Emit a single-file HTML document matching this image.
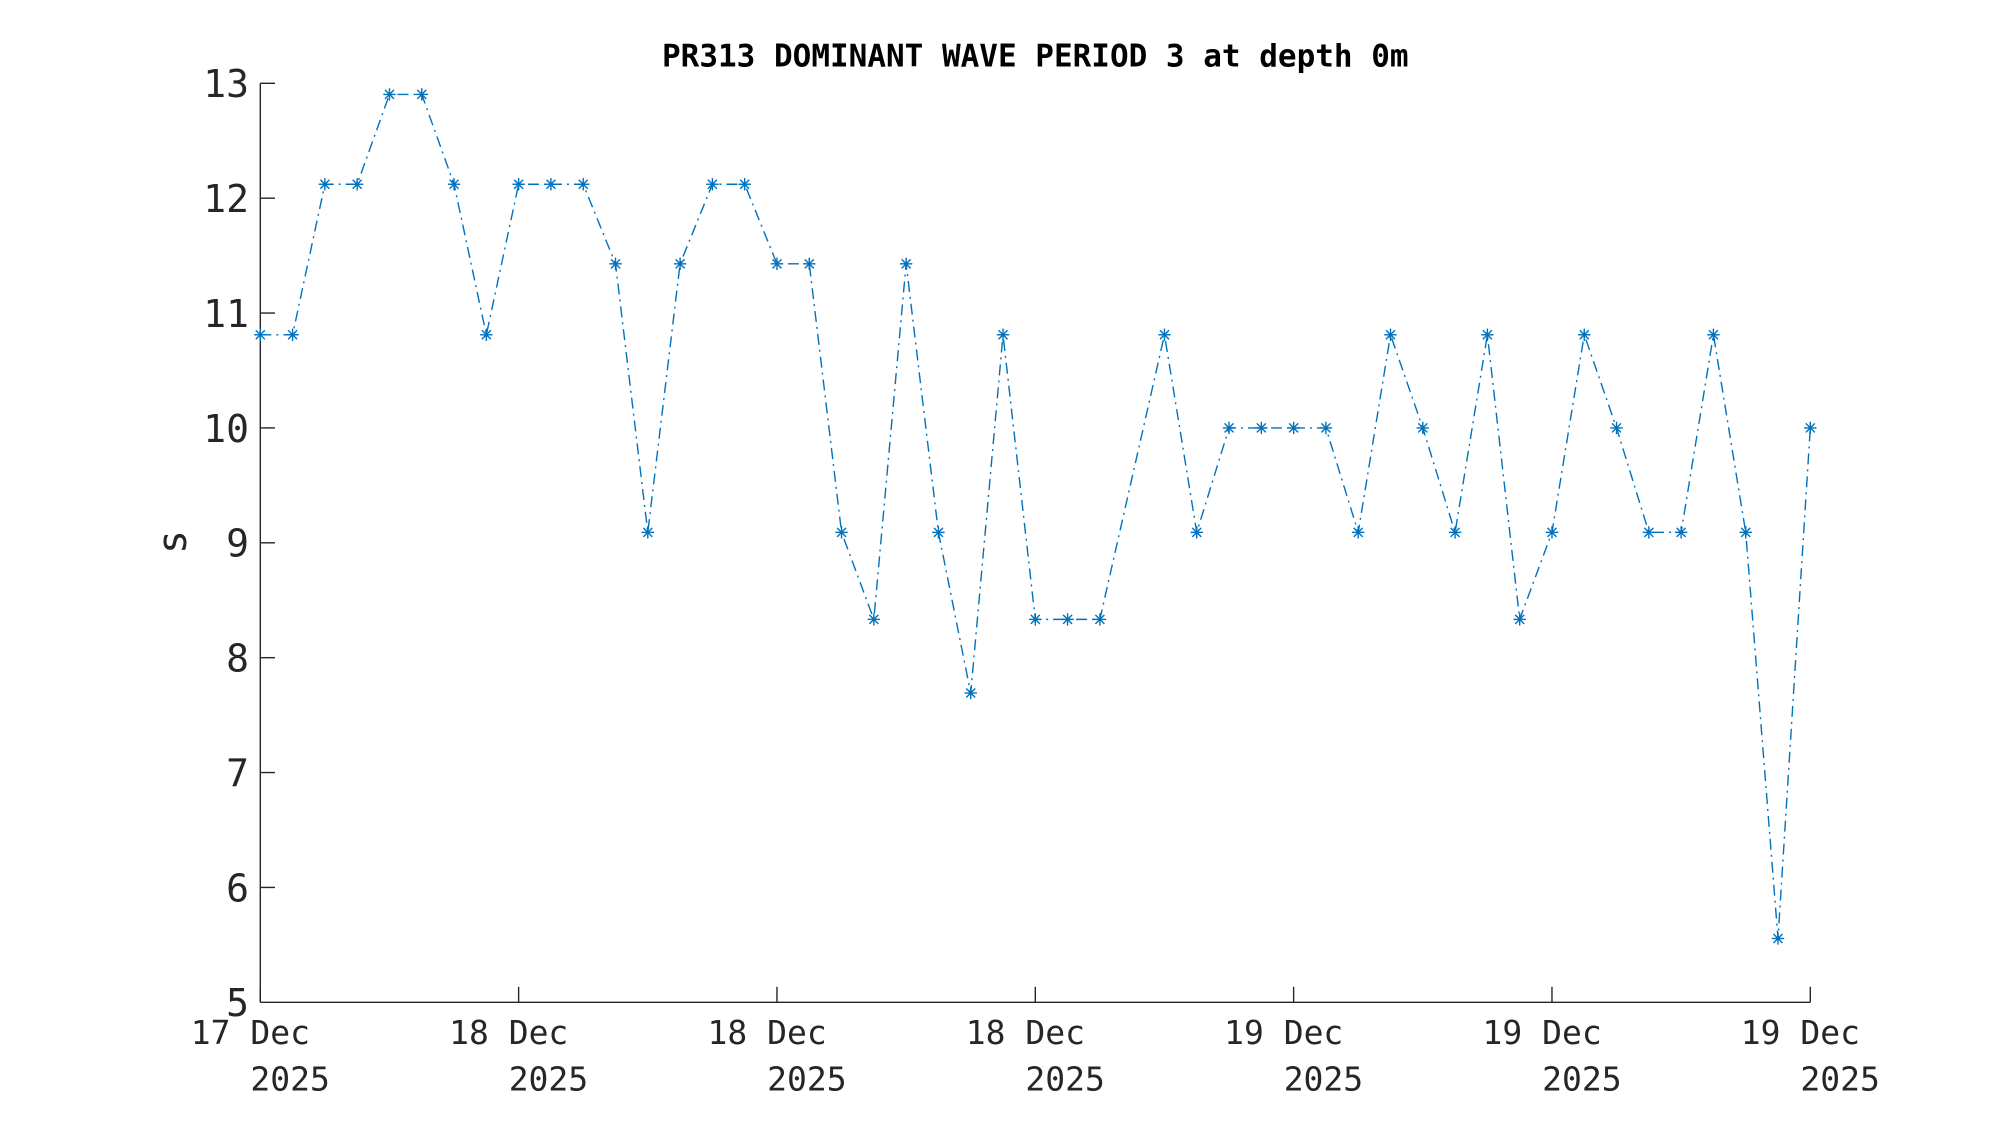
<!DOCTYPE html>
<html>
<head>
<meta charset="utf-8">
<style>
  html, body { margin: 0; padding: 0; background: #ffffff; }
  svg { display: block; }
</style>
</head>
<body>
<svg xmlns="http://www.w3.org/2000/svg" width="2000" height="1125" viewBox="0 0 2000 1125">
  <rect x="0" y="0" width="2000" height="1125" fill="#ffffff"/>

  <text x="1035.3" y="66.7" text-anchor="middle" font-family="'DejaVu Sans Mono', 'Liberation Mono', monospace" font-weight="bold" font-size="31" fill="#000000">PR313 DOMINANT WAVE PERIOD 3 at depth 0m</text>

  <g stroke="#262626" stroke-width="1.4" fill="none">
    <line x1="260.3" y1="83.3" x2="260.3" y2="1002.3"/>
    <line x1="260.3" y1="1002.3" x2="1810.3" y2="1002.3"/>
    <line x1="260.3" y1="83.3" x2="275" y2="83.3"/>
    <line x1="260.3" y1="198.18" x2="275" y2="198.18"/>
    <line x1="260.3" y1="313.05" x2="275" y2="313.05"/>
    <line x1="260.3" y1="427.93" x2="275" y2="427.93"/>
    <line x1="260.3" y1="542.8" x2="275" y2="542.8"/>
    <line x1="260.3" y1="657.68" x2="275" y2="657.68"/>
    <line x1="260.3" y1="772.55" x2="275" y2="772.55"/>
    <line x1="260.3" y1="887.43" x2="275" y2="887.43"/>
    <line x1="260.3" y1="1002.3" x2="260.3" y2="986.8"/>
    <line x1="518.63" y1="1002.3" x2="518.63" y2="986.8"/>
    <line x1="776.97" y1="1002.3" x2="776.97" y2="986.8"/>
    <line x1="1035.3" y1="1002.3" x2="1035.3" y2="986.8"/>
    <line x1="1293.63" y1="1002.3" x2="1293.63" y2="986.8"/>
    <line x1="1551.97" y1="1002.3" x2="1551.97" y2="986.8"/>
    <line x1="1810.3" y1="1002.3" x2="1810.3" y2="986.8"/>
  </g>

  <g font-family="'DejaVu Sans Mono', 'Liberation Mono', monospace" font-size="38" fill="#262626" text-anchor="end">
    <text x="249" y="97.2">13</text>
    <text x="249" y="212.1">12</text>
    <text x="249" y="327">11</text>
    <text x="249" y="441.8">10</text>
    <text x="249" y="556.7">9</text>
    <text x="249" y="671.6">8</text>
    <text x="249" y="786.5">7</text>
    <text x="249" y="901.3">6</text>
    <text x="249" y="1016.2">5</text>
  </g>

  <text transform="translate(186,542) rotate(-90)" x="0" y="0" text-anchor="middle" font-family="'DejaVu Sans Mono', 'Liberation Mono', monospace" font-size="40" fill="#262626">s</text>

  <g font-family="'DejaVu Sans Mono', 'Liberation Mono', monospace" font-size="33" fill="#262626">
    <text x="190.8" y="1044">17 Dec</text><text x="250.4" y="1090.7">2025</text>
    <text x="449.1" y="1044">18 Dec</text><text x="508.7" y="1090.7">2025</text>
    <text x="707.5" y="1044">18 Dec</text><text x="767.1" y="1090.7">2025</text>
    <text x="965.8" y="1044">18 Dec</text><text x="1025.4" y="1090.7">2025</text>
    <text x="1224.1" y="1044">19 Dec</text><text x="1283.7" y="1090.7">2025</text>
    <text x="1482.5" y="1044">19 Dec</text><text x="1542.1" y="1090.7">2025</text>
    <text x="1740.8" y="1044">19 Dec</text><text x="1800.4" y="1090.7">2025</text>
  </g>

  <defs>
    <g id="m">
      <line x1="-6.2" y1="0" x2="6.2" y2="0"/>
      <line x1="0" y1="-6.2" x2="0" y2="6.2"/>
      <line x1="-4.5" y1="-4.5" x2="4.5" y2="4.5"/>
      <line x1="-4.5" y1="4.5" x2="4.5" y2="-4.5"/>
    </g>
  </defs>
  <polyline fill="none" stroke="#0072BD" stroke-width="1.4" stroke-dasharray="11 5 2 5"
    points="260.3,334.79 292.59,334.79 324.88,184.25 357.18,184.25 389.47,94.42 421.76,94.42 454.05,184.25 486.34,334.79 518.63,184.25 550.93,184.25 583.22,184.25 615.51,263.82 647.80,532.36 680.09,263.82 712.38,184.25 744.68,184.25 776.97,263.82 809.26,263.82 841.55,532.36 873.84,619.38 906.13,263.82 938.43,532.36 970.72,693.02 1003.01,334.79 1035.30,619.38 1067.59,619.38 1099.88,619.38 1164.47,334.79 1196.76,532.36 1229.05,427.93 1261.34,427.93 1293.63,427.93 1325.93,427.93 1358.22,532.36 1390.51,334.79 1422.80,427.93 1455.09,532.36 1487.38,334.79 1519.68,619.38 1551.97,532.36 1584.26,334.79 1616.55,427.93 1648.84,532.36 1681.13,532.36 1713.43,334.79 1745.72,532.36 1778.01,938.48 1810.30,427.93"/>

  <g stroke="#0072BD" stroke-width="1.4" fill="none">
    <use href="#m" x="260.3" y="334.79"/>
    <use href="#m" x="292.59" y="334.79"/>
    <use href="#m" x="324.88" y="184.25"/>
    <use href="#m" x="357.18" y="184.25"/>
    <use href="#m" x="389.47" y="94.42"/>
    <use href="#m" x="421.76" y="94.42"/>
    <use href="#m" x="454.05" y="184.25"/>
    <use href="#m" x="486.34" y="334.79"/>
    <use href="#m" x="518.63" y="184.25"/>
    <use href="#m" x="550.93" y="184.25"/>
    <use href="#m" x="583.22" y="184.25"/>
    <use href="#m" x="615.51" y="263.82"/>
    <use href="#m" x="647.80" y="532.36"/>
    <use href="#m" x="680.09" y="263.82"/>
    <use href="#m" x="712.38" y="184.25"/>
    <use href="#m" x="744.68" y="184.25"/>
    <use href="#m" x="776.97" y="263.82"/>
    <use href="#m" x="809.26" y="263.82"/>
    <use href="#m" x="841.55" y="532.36"/>
    <use href="#m" x="873.84" y="619.38"/>
    <use href="#m" x="906.13" y="263.82"/>
    <use href="#m" x="938.43" y="532.36"/>
    <use href="#m" x="970.72" y="693.02"/>
    <use href="#m" x="1003.01" y="334.79"/>
    <use href="#m" x="1035.30" y="619.38"/>
    <use href="#m" x="1067.59" y="619.38"/>
    <use href="#m" x="1099.88" y="619.38"/>
    <use href="#m" x="1164.47" y="334.79"/>
    <use href="#m" x="1196.76" y="532.36"/>
    <use href="#m" x="1229.05" y="427.93"/>
    <use href="#m" x="1261.34" y="427.93"/>
    <use href="#m" x="1293.63" y="427.93"/>
    <use href="#m" x="1325.93" y="427.93"/>
    <use href="#m" x="1358.22" y="532.36"/>
    <use href="#m" x="1390.51" y="334.79"/>
    <use href="#m" x="1422.80" y="427.93"/>
    <use href="#m" x="1455.09" y="532.36"/>
    <use href="#m" x="1487.38" y="334.79"/>
    <use href="#m" x="1519.68" y="619.38"/>
    <use href="#m" x="1551.97" y="532.36"/>
    <use href="#m" x="1584.26" y="334.79"/>
    <use href="#m" x="1616.55" y="427.93"/>
    <use href="#m" x="1648.84" y="532.36"/>
    <use href="#m" x="1681.13" y="532.36"/>
    <use href="#m" x="1713.43" y="334.79"/>
    <use href="#m" x="1745.72" y="532.36"/>
    <use href="#m" x="1778.01" y="938.48"/>
    <use href="#m" x="1810.30" y="427.93"/>
  </g>
</svg>
</body>
</html>
